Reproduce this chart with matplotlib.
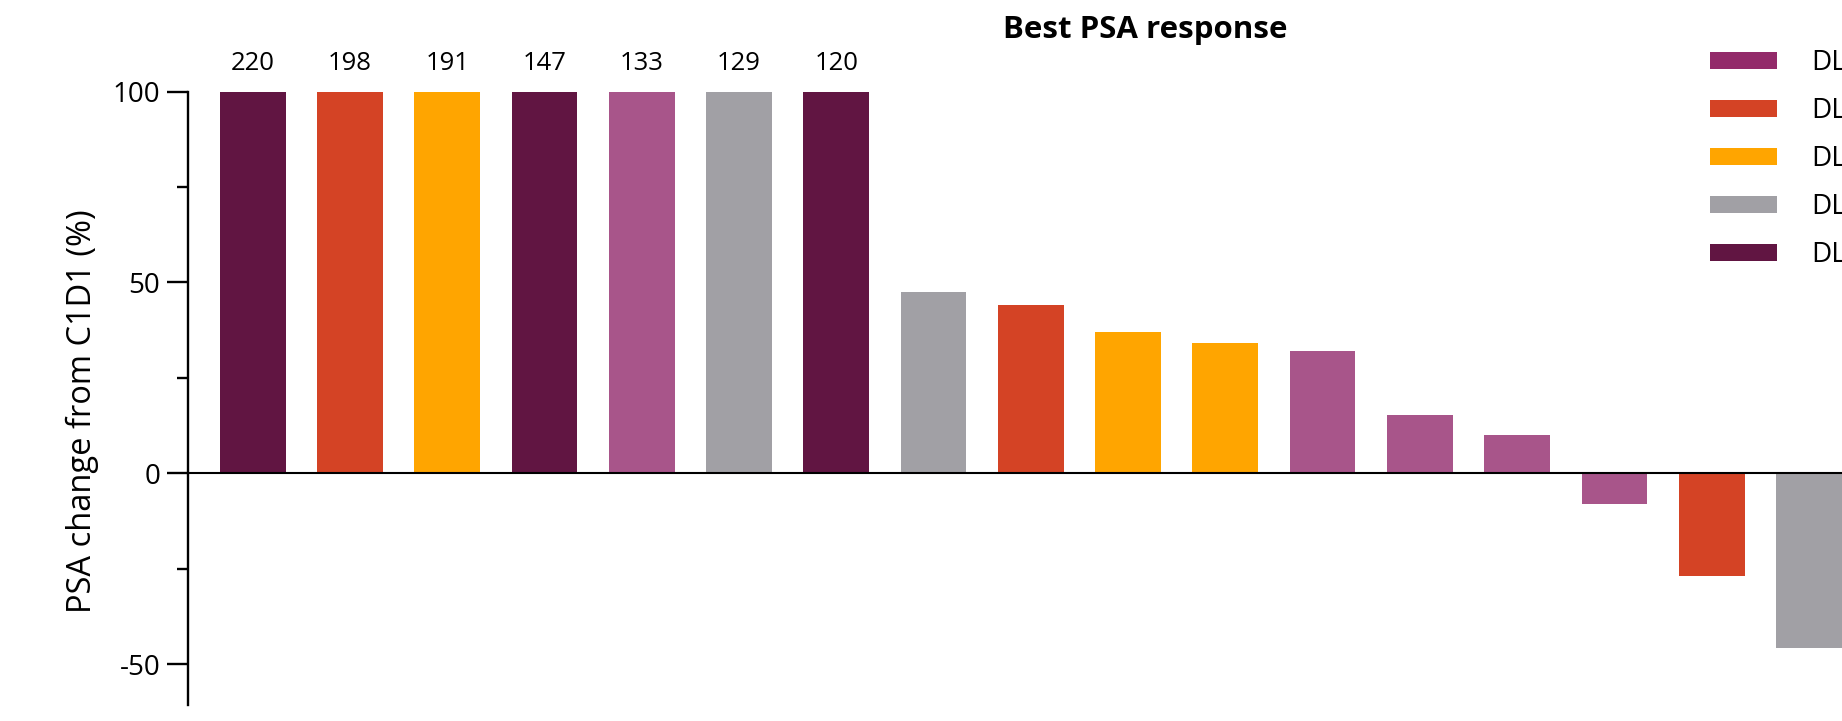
import matplotlib.pyplot as plt
from matplotlib.patches import Patch

plt.rcParams['font.family'] = ['Open Sans', 'DejaVu Sans']

# best PSA change per patient (%), sorted; values above 100 are capped in the plot
psa_change = [220, 198, 191, 147, 133, 129, 120, 47.4, 44.0, 37.0, 34.2, 32.0,
              15.3, 10.0, -8.0, -26.8, -45.9]
dose_level = ['DL5', 'DL2', 'DL3', 'DL5', 'DL1', 'DL4', 'DL5', 'DL4', 'DL2', 'DL3',
              'DL3', 'DL1', 'DL1', 'DL1', 'DL1', 'DL2', 'DL4']

bar_colors = {'DL1': '#a8558a', 'DL2': '#d44325', 'DL3': '#ffa500',
              'DL4': '#a1a0a5', 'DL5': '#611542'}
legend_labels = ['DL1', 'DL2', 'DL3', 'DL4', 'DL5']
legend_colors = ['#932a6a', '#d44325', '#ffa500', '#a1a0a5', '#611542']

cap = 100
x = list(range(len(psa_change)))
heights = [min(v, cap) for v in psa_change]
colors = [bar_colors[d] for d in dose_level]

fig = plt.figure(figsize=(18.42, 7.21), dpi=100)
ax = fig.add_axes([0.1021, 0.0222, 0.8979, 0.8508])

ax.bar(x, heights, width=0.676, color=colors, linewidth=0)

# capped bars get their real value written on top
for xi, v in zip(x, psa_change):
    if v > cap:
        ax.annotate(str(v), (xi, cap), xytext=(0, 15.5), textcoords='offset points',
                    ha='center', va='baseline', fontsize=18.5, annotation_clip=False)

ax.set_xlim(-0.664, 16.34)
ax.set_ylim(-60.7, 100)
ax.set_yticks([-50, 0, 50, 100])
ax.set_yticklabels(['-50', '0', '50', '100'])
ax.set_yticks([-25, 25, 75], minor=True)
ax.tick_params(axis='y', which='major', length=15, width=1.7, labelsize=20, pad=5)
ax.tick_params(axis='y', which='minor', length=8, width=1.7)
ax.tick_params(axis='x', which='both', bottom=False, labelbottom=False)

for s in ['top', 'right']:
    ax.spines[s].set_visible(False)
ax.spines['left'].set_linewidth(1.7)
ax.spines['bottom'].set_position(('data', 0))
ax.spines['bottom'].set_linewidth(1.5)
ax.spines['bottom'].set_zorder(3)

ax.set_ylabel('PSA change from C1D1 (%)', fontsize=23.5, va='center')
ax.yaxis.set_label_coords(-0.064, 0.479)

fig.text(0.6216, 0.958, 'Best PSA response', ha='center', va='center',
         fontsize=22.5, fontweight='bold')

handles = [Patch(facecolor=c, edgecolor='none') for c in legend_colors]
fig.legend(handles, legend_labels, loc='upper left', bbox_to_anchor=(0.9225, 0.947),
           frameon=False, fontsize=20, handlelength=2.4, handleheight=0.6,
           handletextpad=1.25, labelspacing=0.72, borderaxespad=0)

fig.savefig('out.png', dpi=100)
